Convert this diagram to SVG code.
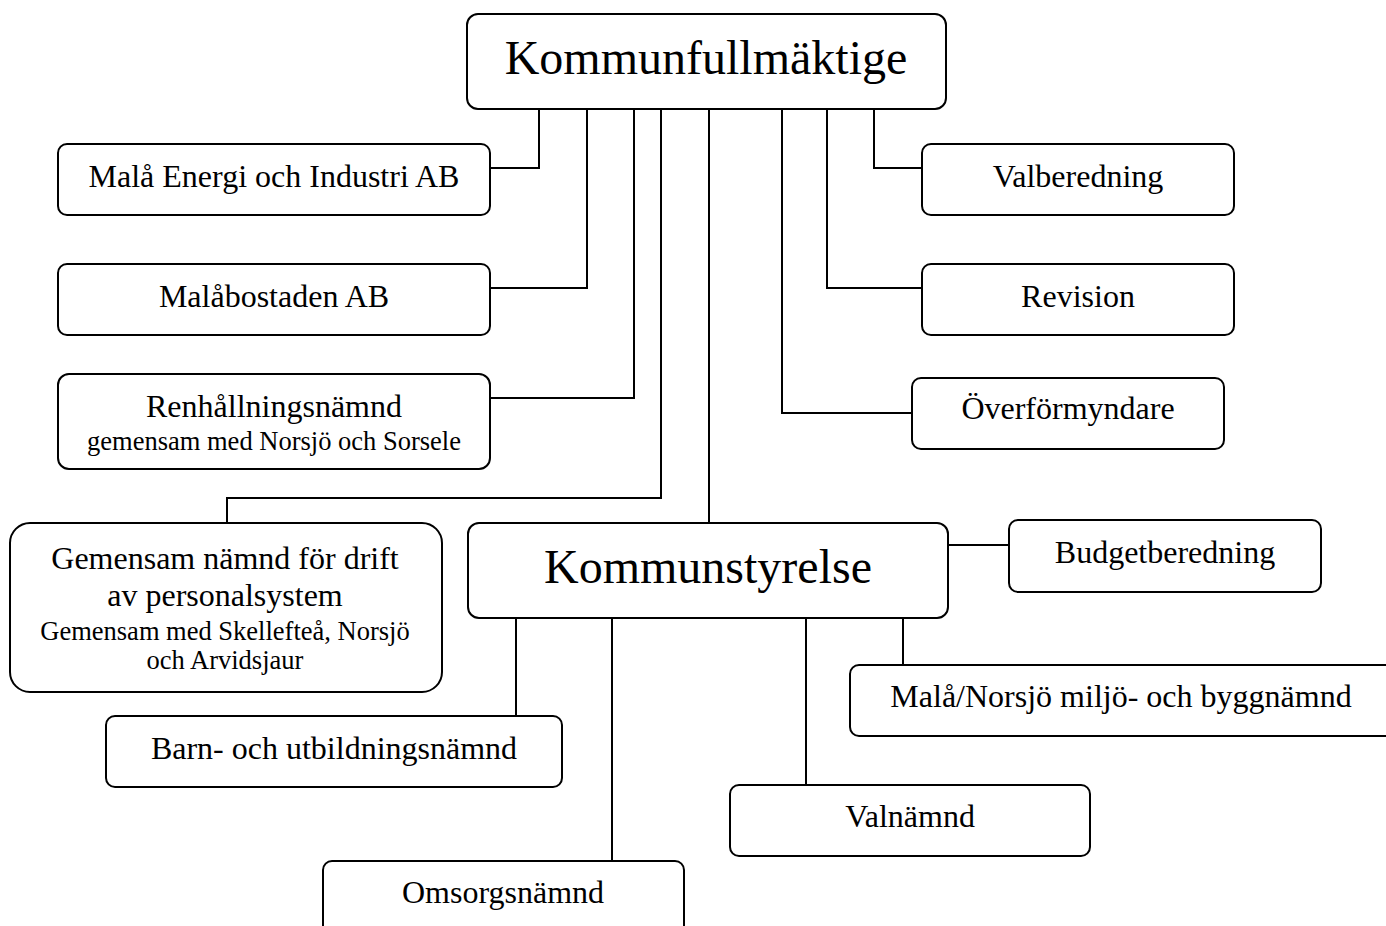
<svg xmlns="http://www.w3.org/2000/svg" width="1386" height="926" viewBox="0 0 1386 926">
<style>
.box{fill:#fff;stroke:#000;stroke-width:2}
.t{font-family:"Liberation Serif","Times New Roman",serif;fill:#000;text-anchor:middle}
.big{font-size:48px}
.m{font-size:32px}
.s{font-size:26.5px}
.c{fill:none;stroke:#000;stroke-width:2}
</style>
<rect width="1386" height="926" fill="#fff"/>
<g id="connectors">
<polyline class="c" points="539,109 539,168 490,168"/>
<polyline class="c" points="587,109 587,288 490,288"/>
<polyline class="c" points="634,109 634,398 490,398"/>
<polyline class="c" points="661,109 661,498 227,498 227,523"/>
<polyline class="c" points="709,109 709,523"/>
<polyline class="c" points="874,109 874,168 922,168"/>
<polyline class="c" points="827,109 827,288 922,288"/>
<polyline class="c" points="782,109 782,413 912,413"/>
<polyline class="c" points="948,545 1009,545"/>
<polyline class="c" points="903,618 903,668"/>
<polyline class="c" points="516,618 516,716"/>
<polyline class="c" points="612,618 612,861"/>
<polyline class="c" points="806,618 806,790"/>
</g>
<g id="kommunfullmaktige">
<rect class="box" x="467" y="14" width="479" height="95" rx="11"/>
<text class="t big" x="706" y="74">Kommunfullmäktige</text>
</g>
<g id="mala-energi">
<rect class="box" x="58" y="144" width="432" height="71" rx="9"/>
<text class="t m" x="274" y="187">Malå Energi och Industri AB</text>
</g>
<g id="malabostaden">
<rect class="box" x="58" y="264" width="432" height="71" rx="9"/>
<text class="t m" x="274" y="307">Malåbostaden AB</text>
</g>
<g id="renhallning">
<rect class="box" x="58" y="374" width="432" height="95" rx="11"/>
<text class="t m" x="274" y="417">Renhållningsnämnd</text>
<text class="t s" x="274" y="450">gemensam med Norsjö och Sorsele</text>
</g>
<g id="personalsystem">
<rect class="box" x="10" y="523" width="432" height="169" rx="20"/>
<text class="t m" x="225" y="569">Gemensam nämnd för drift</text>
<text class="t m" x="225" y="606">av personalsystem</text>
<text class="t s" x="225" y="640">Gemensam med Skellefteå, Norsjö</text>
<text class="t s" x="225" y="669">och Arvidsjaur</text>
</g>
<g id="valberedning">
<rect class="box" x="922" y="144" width="312" height="71" rx="9"/>
<text class="t m" x="1078" y="187">Valberedning</text>
</g>
<g id="revision">
<rect class="box" x="922" y="264" width="312" height="71" rx="9"/>
<text class="t m" x="1078" y="307">Revision</text>
</g>
<g id="overformyndare">
<rect class="box" x="912" y="378" width="312" height="71" rx="9"/>
<text class="t m" x="1068" y="419">Överförmyndare</text>
</g>
<g id="kommunstyrelse">
<rect class="box" x="468" y="523" width="480" height="95" rx="11"/>
<text class="t big" x="708" y="583">Kommunstyrelse</text>
</g>
<g id="budgetberedning">
<rect class="box" x="1009" y="520" width="312" height="72" rx="9"/>
<text class="t m" x="1165" y="563">Budgetberedning</text>
</g>
<g id="miljo-bygg">
<rect class="box" x="850" y="665" width="560" height="71" rx="9"/>
<text class="t m" x="1121" y="707">Malå/Norsjö miljö- och byggnämnd</text>
</g>
<g id="barn-utbildning">
<rect class="box" x="106" y="716" width="456" height="71" rx="9"/>
<text class="t m" x="334" y="759">Barn- och utbildningsnämnd</text>
</g>
<g id="valnamnd">
<rect class="box" x="730" y="785" width="360" height="71" rx="9"/>
<text class="t m" x="910" y="827">Valnämnd</text>
</g>
<g id="omsorgsnamnd">
<rect class="box" x="323" y="861" width="361" height="90" rx="9"/>
<text class="t m" x="503" y="903">Omsorgsnämnd</text>
</g>
</svg>
